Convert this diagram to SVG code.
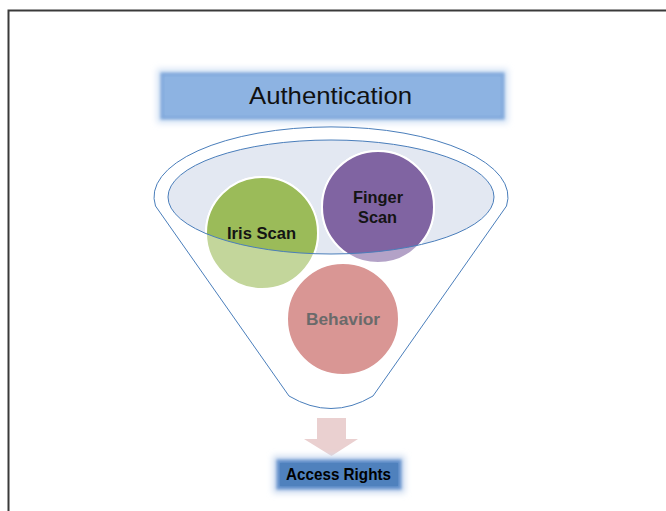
<svg xmlns="http://www.w3.org/2000/svg" width="666" height="511" viewBox="0 0 666 511">
<defs>
<style>
.lbl{font-family:"Liberation Sans",Arial,sans-serif;font-weight:bold;font-size:17px;text-anchor:middle;fill:#141414}
.circ{stroke:#ffffff;stroke-width:2}
</style>
<filter id="soft" x="-10%" y="-40%" width="120%" height="180%">
<feGaussianBlur stdDeviation="1.6"/>
</filter>
<filter id="glow" x="-10%" y="-40%" width="120%" height="180%">
<feGaussianBlur stdDeviation="3"/>
</filter>
<clipPath id="inner">
<ellipse cx="331" cy="197" rx="163" ry="57"/>
</clipPath>
</defs>
<rect width="666" height="511" fill="#ffffff"/>
<rect x="8.5" y="10.5" width="700" height="600" fill="none" stroke="#3a3a3a" stroke-width="2"/>

<g id="authentication">
<rect x="157" y="69" width="351" height="54" fill="#d3e2f5" filter="url(#glow)"/>
<rect x="162" y="74" width="341" height="44" fill="#8db3e2" stroke="#7ea6da" stroke-width="3" filter="url(#soft)"/>
<rect x="165" y="77" width="335" height="38" fill="#8db3e2"/>
<text x="330.5" y="104" font-family="Liberation Sans, Arial, sans-serif" font-size="24" text-anchor="middle" fill="#111111" textLength="163" lengthAdjust="spacingAndGlyphs">Authentication</text>
</g>

<g id="funnel">
<path d="M155.5,206 L289,396 Q331,421 373,396 L506.5,206 A177 70 0 1 0 155.5,206 Z" fill="#ffffff" stroke="#4a7ebb" stroke-width="1"/>
<ellipse cx="331" cy="197" rx="163" ry="57" fill="#e3e8f2"/>
</g>

<g id="iris-scan">
<circle cx="262" cy="233" r="56" fill="#c3d69b" class="circ"/>
<circle cx="262" cy="233" r="56" fill="#9bbb59" class="circ" clip-path="url(#inner)"/>
</g>
<g id="finger-scan">
<circle cx="378" cy="207" r="56" fill="#b3a2c7" class="circ"/>
<circle cx="378" cy="207" r="56" fill="#8064a2" class="circ" clip-path="url(#inner)"/>
</g>
<g id="behavior">
<circle cx="343" cy="319" r="56" fill="#d99694" class="circ"/>
<text x="343" y="325" class="lbl" style="fill:#6a6a6a" textLength="74" lengthAdjust="spacingAndGlyphs">Behavior</text>
</g>

<ellipse cx="331" cy="197" rx="163" ry="57" fill="none" stroke="#4a7ebb" stroke-width="1"/>

<text x="261.5" y="239" class="lbl" textLength="69" lengthAdjust="spacingAndGlyphs">Iris Scan</text>
<text x="378" y="202.5" class="lbl" textLength="50" lengthAdjust="spacingAndGlyphs">Finger</text>
<text x="377.5" y="222.5" class="lbl" textLength="39" lengthAdjust="spacingAndGlyphs">Scan</text>

<g id="connectors">
<path d="M317,418 L346,418 L346,439 L358,439 L331.5,456 L304,439 L317,439 Z" fill="#ead0d0"/>
</g>

<g id="access-rights">
<rect x="273" y="456" width="132" height="37" fill="#c9d9ef" filter="url(#glow)"/>
<rect x="278" y="461" width="122" height="27" fill="#4f81bd" stroke="#6b95cf" stroke-width="3" filter="url(#soft)"/>
<rect x="280" y="463" width="118" height="23" fill="#4f81bd"/>
<text x="338.5" y="480" class="lbl" style="font-size:16.5px;fill:#000000" textLength="105" lengthAdjust="spacingAndGlyphs">Access Rights</text>
</g>
</svg>
